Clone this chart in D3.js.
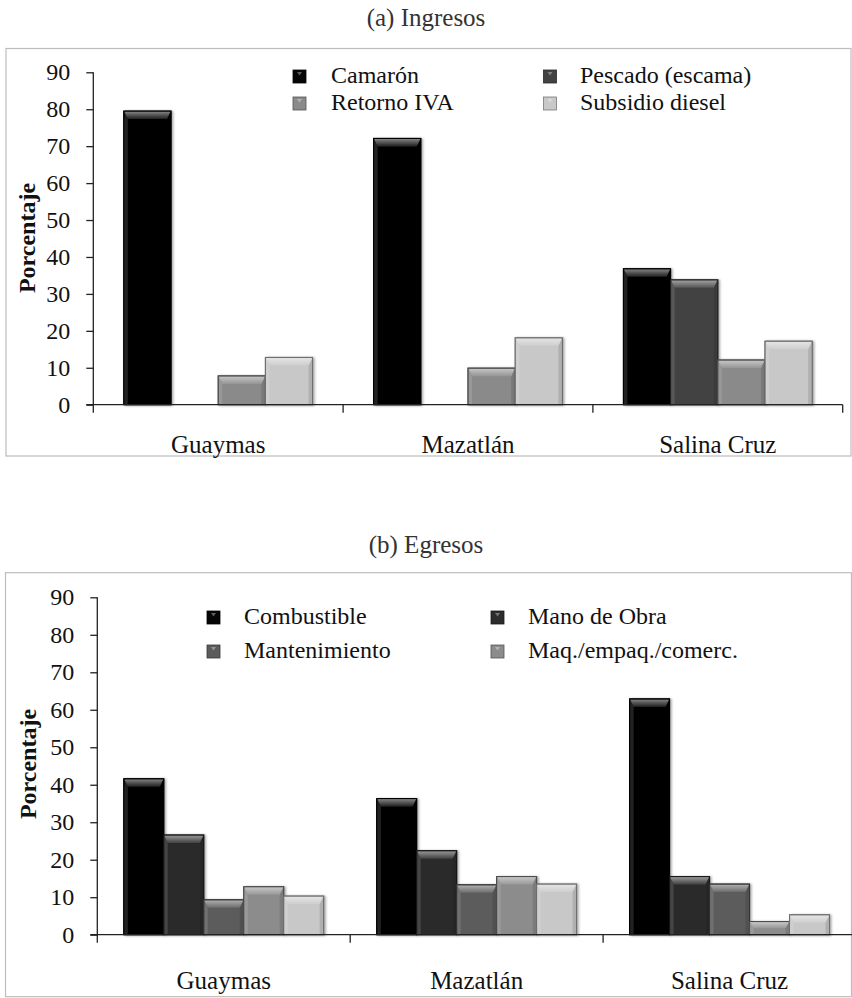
<!DOCTYPE html>
<html><head><meta charset="utf-8">
<script src="https://cdn.jsdelivr.net/npm/d3@7/dist/d3.min.js"></script>
<style>
html,body{margin:0;padding:0;background:#fff;}
svg{display:block;}
</style></head>
<body>
<svg id="chart" width="852" height="998"></svg>
<script>
// ---- data ----
const categories = ["Guaymas", "Mazatlán", "Salina Cruz"];
const yTicks = [0, 10, 20, 30, 40, 50, 60, 70, 80, 90];

const ingresosSeries = ["Camarón", "Pescado (escama)", "Retorno IVA", "Subsidio diesel"];
const ingresosColors = ["#060606", "#424242", "#8a8a8a", "#c8c8c8"];
const camaron   = [79.5, 72.1, 36.8];
const pescado   = [0, 0, 33.8];
const retorno   = [7.8, 9.9, 12.1];
const subsidio  = [12.8, 18.1, 17.2];

const egresosSeries = ["Combustible", "Mano de Obra", "Mantenimiento", "Maq./empaq./comerc.", ""];
const egresosColors = ["#060606", "#2c2c2c", "#5c5c5c", "#8c8c8c", "#c8c8c8"];
const combustible   = [41.6, 36.3, 62.9];
const manoObra      = [26.6, 22.4, 15.5];
const mantenimiento = [9.3, 13.3, 13.5];
const maqEmpaq      = [12.8, 15.5, 3.5];
const otros         = [10.3, 13.5, 5.3];

const FONT = "'Liberation Serif', Tinos, 'Times New Roman', 'DejaVu Serif', serif";

const svg = d3.select("#chart").attr("font-family", FONT);
const defs = svg.append("defs");
const f = defs.append("filter").attr("id","shadow").attr("x","-20%").attr("y","-20%").attr("width","140%").attr("height","140%");
f.append("feDropShadow").attr("dx",1.5).attr("dy",0.5).attr("stdDeviation",1.2).attr("flood-color","#000").attr("flood-opacity",0.35);

function mix(c, t){ return d3.interpolateRgb(c, "#ffffff")(t); }
function dark(c, t){ return d3.interpolateRgb(c, "#000000")(t); }

let gradId = 0;
function bevelBar(g, x, y, w, h, color){
  if (h <= 0) return;
  const b = Math.min(8, h/2), s = Math.min(4, w/4);
  const grp = g.append("g").attr("filter","url(#shadow)");
  grp.append("rect").attr("x",x).attr("y",y).attr("width",w).attr("height",h)
     .attr("fill",color).attr("stroke",dark(color,0.45)).attr("stroke-width",1);
  grp.append("polygon").attr("points",[[x+0.5,y+0.5],[x+s,y+b],[x+s,y+h-0.5],[x+0.5,y+h-0.5]].join(" "))
     .attr("fill",mix(color,0.12));
  grp.append("polygon").attr("points",[[x+w-0.5,y+0.5],[x+w-s,y+b],[x+w-s,y+h-0.5],[x+w-0.5,y+h-0.5]].join(" "))
     .attr("fill",dark(color,0.12));
  const id = "g"+(gradId++);
  const lg = defs.append("linearGradient").attr("id",id).attr("x1",0).attr("y1",0).attr("x2",0).attr("y2",1);
  lg.append("stop").attr("offset","0%").attr("stop-color",mix(color,0.5));
  lg.append("stop").attr("offset","100%").attr("stop-color",mix(color,0.1));
  grp.append("polygon").attr("points",[[x+0.5,y+0.5],[x+w-0.5,y+0.5],[x+w-s,y+b],[x+s,y+b]].join(" "))
     .attr("fill","url(#"+id+")");
  grp.append("rect").attr("x",x).attr("y",y).attr("width",w).attr("height",h)
     .attr("fill","none").attr("stroke",dark(color,0.45)).attr("stroke-width",1);
}

function legendSwatch(g, x, y, color){
  g.append("rect").attr("x",x).attr("y",y).attr("width",13).attr("height",13)
   .attr("fill",color).attr("stroke",dark(color,0.4)).attr("stroke-width",0.8);
  g.append("polygon").attr("points",[[x+4,y+2],[x+9,y+2],[x+6.5,y+5.5]].join(" ")).attr("fill",mix(color,0.35));
}

function drawChart(cfg){
  const g = svg.append("g");
  g.append("rect").attr("x",cfg.frame[0]).attr("y",cfg.frame[1]).attr("width",cfg.frame[2]).attr("height",cfg.frame[3])
   .attr("fill","none").attr("stroke","#bdbdbd").attr("stroke-width",1.2);
  g.append("text").attr("x",426).attr("y",cfg.titleY).attr("text-anchor","middle")
   .attr("font-family",FONT).attr("font-size",25).attr("fill","#333").text(cfg.title);

  const y = d3.scaleLinear().domain([0,90]).range([cfg.y0, cfg.y90]);
  const x0 = d3.scaleBand().domain(categories).range([cfg.xl, cfg.xr]).padding(0);
  const bw = x0.bandwidth();
  const x1 = d3.scaleBand().domain(d3.range(cfg.series.length)).range([cfg.pad, bw - cfg.pad]).padding(0);

  cfg.values.forEach((vals, si) => {
    vals.forEach((v, ci) => {
      const bx = x0(categories[ci]) + x1(si);
      bevelBar(g, bx, y(v), x1.bandwidth(), y(0) - y(v), cfg.colors[si]);
    });
  });

  const ya = g.append("g").attr("transform",`translate(${cfg.xl},0)`)
    .call(d3.axisLeft(y).tickValues(yTicks).tickSize(7).tickPadding(16).tickFormat(d3.format("d")));
  ya.attr("font-family",FONT);
  ya.select(".domain").remove();
  ya.selectAll(".tick line").attr("stroke","#222").attr("stroke-width",1.3);
  ya.selectAll(".tick text").attr("font-size",24).attr("fill","#111").attr("font-family",FONT);
  g.append("line").attr("x1",cfg.xl).attr("x2",cfg.xl).attr("y1",y(90)).attr("y2",y(0)+8)
   .attr("stroke","#222").attr("stroke-width",1.3);

  g.append("line").attr("x1",cfg.xl-7).attr("x2",cfg.xr).attr("y1",y(0)).attr("y2",y(0))
   .attr("stroke","#222").attr("stroke-width",1.3);
  categories.forEach(c => {
    const bx = x0(c) + bw;
    g.append("line").attr("x1",bx).attr("x2",bx).attr("y1",y(0)).attr("y2",y(0)+8)
     .attr("stroke","#222").attr("stroke-width",1.3);
    g.append("text").attr("x",x0(c)+bw/2).attr("y",cfg.catY).attr("text-anchor","middle")
     .attr("font-family",FONT).attr("font-size",25).attr("fill","#111").text(c);
  });

  g.append("text").attr("transform",`translate(${cfg.ylabX},${cfg.ylabY}) rotate(-90)`)
   .attr("text-anchor","middle").attr("font-family",FONT).attr("font-size",24).attr("font-weight","bold").attr("fill","#111").text("Porcentaje");

  cfg.legend.forEach((L) => {
    legendSwatch(g, L.x, L.y, cfg.colors[L.i]);
    g.append("text").attr("x",L.tx).attr("y",L.y+13).attr("font-family",FONT).attr("font-size",24).attr("fill","#111").text(cfg.series[L.i]);
  });
}

drawChart({
  title: "(a) Ingresos", titleY: 26,
  frame: [6, 48.5, 845, 407.5],
  y0: 404.7, y90: 72.3, xl: 93.3, xr: 842.7, pad: 30.5,
  catY: 453, ylabX: 35, ylabY: 238,
  series: ingresosSeries, colors: ingresosColors,
  values: [camaron, pescado, retorno, subsidio],
  legend: [
    {i:0, x:293, y:70, tx:331},
    {i:1, x:543.5, y:70, tx:580},
    {i:2, x:293, y:97, tx:331},
    {i:3, x:543.5, y:97, tx:580}
  ]
});

drawChart({
  title: "(b) Egresos", titleY: 553,
  frame: [5.5, 572.7, 846, 424],
  y0: 934.7, y90: 597.3, xl: 97.3, xr: 856, pad: 26.5,
  catY: 989, ylabX: 36, ylabY: 764,
  series: egresosSeries, colors: egresosColors,
  values: [combustible, manoObra, mantenimiento, maqEmpaq, otros],
  legend: [
    {i:0, x:207, y:611, tx:244},
    {i:1, x:491, y:611, tx:528},
    {i:2, x:207, y:645, tx:244},
    {i:3, x:491, y:645, tx:528}
  ]
});
</script>
</body></html>
